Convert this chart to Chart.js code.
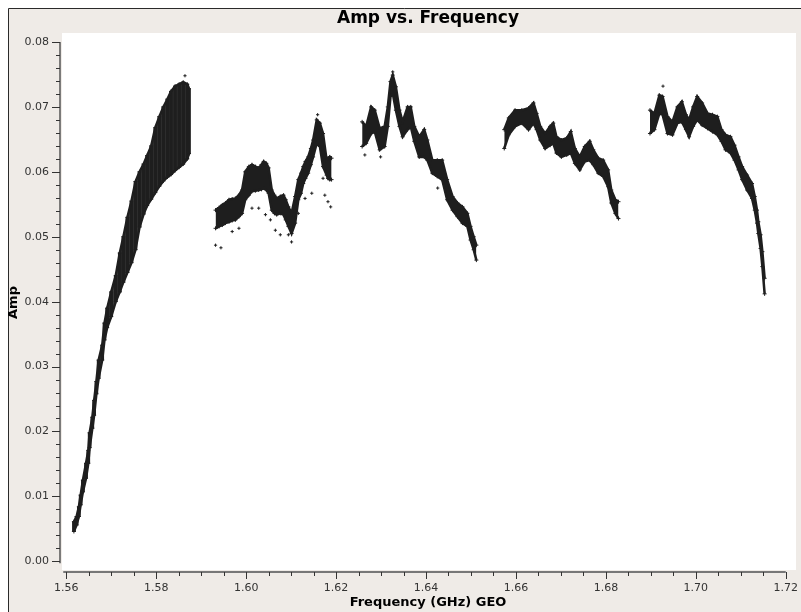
<!DOCTYPE html>
<html>
<head>
<meta charset="utf-8">
<script src="https://cdn.jsdelivr.net/npm/chart.js@4.4.1/dist/chart.umd.min.js"></script>
<style>
  html, body { margin: 0; padding: 0; background: #ffffff; }
  canvas { display: block; }
</style>
</head>
<body>
<canvas id="plot" width="801" height="612"></canvas>
<script>
// Amplitude spread per frequency channel: low / high envelope of the visibilities (GHz, Amp)
const seg1Freq = [1.5617,1.5623,1.5628,1.5632,1.5637,1.5644,1.5649,1.5652,1.5658,1.5662,1.5667,1.5672,1.5680,1.5685,1.5691,1.5700,1.5710,1.5719,1.5727,1.5736,1.5745,1.5754,1.5763,1.5772,1.5780,1.5789,1.5798,1.5807,1.5816,1.5825,1.5833,1.5842,1.5851,1.5860,1.5869,1.5873];
const seg1Lo   = [0.0046,0.0056,0.0069,0.0087,0.0107,0.0128,0.0151,0.0175,0.0205,0.0225,0.0258,0.0282,0.0310,0.0341,0.0360,0.0377,0.0400,0.0415,0.0430,0.0445,0.0460,0.0480,0.0515,0.0535,0.0548,0.0558,0.0568,0.0578,0.0586,0.0592,0.0596,0.0602,0.0607,0.0612,0.0620,0.0628];
const seg1Hi   = [0.0061,0.0069,0.0084,0.0102,0.0125,0.0151,0.0171,0.0198,0.0222,0.0248,0.0277,0.0310,0.0333,0.0367,0.0390,0.0415,0.0440,0.0475,0.0500,0.0530,0.0555,0.0585,0.0600,0.0612,0.0625,0.0640,0.0668,0.0685,0.0700,0.0712,0.0724,0.0732,0.0735,0.0738,0.0735,0.0728];

const seg2Freq = [1.5932,1.5940,1.5947,1.5954,1.5962,1.5969,1.5976,1.5984,1.5991,1.5998,1.6006,1.6013,1.6021,1.6028,1.6034,1.6039,1.6045,1.6050,1.6057,1.6063,1.6068,1.6076,1.6083,1.6088,1.6094,1.6101,1.6109,1.6116,1.6122,1.6127,1.6132,1.6138,1.6144,1.6149,1.6157,1.6164,1.6171,1.6179,1.6182,1.6186,1.6190];
const seg2Lo   = [0.0513,0.0516,0.0518,0.0521,0.0523,0.0525,0.0526,0.0531,0.0536,0.0557,0.0564,0.0570,0.0571,0.0572,0.0573,0.0575,0.0572,0.0567,0.0541,0.0536,0.0534,0.0536,0.0534,0.0526,0.0516,0.0505,0.0521,0.0557,0.0567,0.0582,0.0590,0.0598,0.0611,0.0623,0.0644,0.0639,0.0608,0.0595,0.0590,0.0588,0.0588];
const seg2Hi   = [0.0541,0.0545,0.0549,0.0552,0.0557,0.0558,0.0559,0.0564,0.0572,0.0600,0.0608,0.0611,0.0608,0.0606,0.0611,0.0616,0.0613,0.0606,0.0572,0.0564,0.0559,0.0562,0.0564,0.0557,0.0546,0.0536,0.0562,0.0588,0.0598,0.0608,0.0616,0.0623,0.0636,0.0649,0.0680,0.0675,0.0659,0.0618,0.0621,0.0623,0.0621];

const seg3Freq = [1.6258,1.6267,1.6278,1.6286,1.6297,1.6308,1.6315,1.6321,1.6326,1.6333,1.6341,1.6348,1.6359,1.6366,1.6374,1.6385,1.6396,1.6403,1.6414,1.6425,1.6436,1.6447,1.6459,1.6470,1.6481,1.6492,1.6499,1.6506,1.6512];
const seg3Lo   = [0.0639,0.0644,0.0659,0.0662,0.0634,0.0639,0.0670,0.0716,0.0721,0.0695,0.0670,0.0654,0.0665,0.0670,0.0647,0.0623,0.0623,0.0618,0.0598,0.0593,0.0588,0.0557,0.0541,0.0531,0.0521,0.0516,0.0495,0.0480,0.0464];
const seg3Hi   = [0.0677,0.0670,0.0700,0.0695,0.0667,0.0670,0.0700,0.0739,0.0749,0.0731,0.0695,0.0677,0.0700,0.0700,0.0670,0.0654,0.0665,0.0649,0.0618,0.0618,0.0618,0.0588,0.0562,0.0552,0.0546,0.0536,0.0516,0.0500,0.0487];

const seg4Freq = [1.6574,1.6584,1.6598,1.6613,1.6628,1.6639,1.6646,1.6654,1.6665,1.6676,1.6683,1.6690,1.6701,1.6713,1.6722,1.6731,1.6742,1.6753,1.6764,1.6772,1.6783,1.6794,1.6805,1.6812,1.6821,1.6828];
const seg4Lo   = [0.0636,0.0657,0.0670,0.0675,0.0665,0.0675,0.0665,0.0649,0.0636,0.0641,0.0644,0.0629,0.0623,0.0626,0.0629,0.0613,0.0603,0.0616,0.0618,0.0611,0.0598,0.0593,0.0577,0.0552,0.0536,0.0528];
const seg4Hi   = [0.0665,0.0683,0.0695,0.0695,0.0698,0.0706,0.0690,0.0670,0.0659,0.0670,0.0675,0.0654,0.0649,0.0652,0.0662,0.0636,0.0623,0.0639,0.0647,0.0634,0.0621,0.0618,0.0603,0.0572,0.0557,0.0554];

const seg5Freq = [1.6898,1.6908,1.6919,1.6926,1.6937,1.6948,1.6959,1.6969,1.6978,1.6985,1.6994,1.7003,1.7014,1.7026,1.7037,1.7048,1.7057,1.7066,1.7077,1.7086,1.7095,1.7103,1.7114,1.7125,1.7131,1.7136,1.7139,1.7144,1.7148,1.7153];
const seg5Lo   = [0.0659,0.0665,0.0690,0.0688,0.0659,0.0657,0.0675,0.0677,0.0665,0.0654,0.0670,0.0680,0.0672,0.0667,0.0662,0.0657,0.0647,0.0634,0.0629,0.0618,0.0603,0.0588,0.0572,0.0559,0.0541,0.0521,0.0505,0.0482,0.0454,0.0412];
const seg5Hi   = [0.0695,0.0690,0.0718,0.0716,0.0685,0.0677,0.0700,0.0708,0.0688,0.0680,0.0700,0.0716,0.0706,0.0690,0.0688,0.0685,0.0665,0.0657,0.0654,0.0641,0.0623,0.0608,0.0595,0.0582,0.0562,0.0541,0.0523,0.0503,0.0477,0.0436];

// Isolated samples lying off the main band
const strayFreq = [1.5864,1.5932,1.5944,1.5969,1.5984,1.6013,1.6028,1.6043,1.6054,1.6065,1.6076,1.6094,1.6101,1.6116,1.6131,1.6146,1.6159,1.6171,1.6175,1.6182,1.6188,1.6264,1.6299,1.6326,1.6426,1.6927];
const strayAmp  = [0.0748,0.0487,0.0483,0.0508,0.0513,0.0544,0.0544,0.0534,0.0526,0.0510,0.0503,0.0503,0.0492,0.0536,0.0559,0.0567,0.0688,0.0590,0.0564,0.0554,0.0546,0.0626,0.0623,0.0754,0.0575,0.0732];

// Axis tick labels
const xTickLabels = [1.56, 1.58, 1.60, 1.62, 1.64, 1.66, 1.68, 1.70, 1.72];
const yTickLabels = [0.00, 0.01, 0.02, 0.03, 0.04, 0.05, 0.06, 0.07, 0.08];

const INK = '#1e1e1e';

const segments = [
  { f: seg1Freq, lo: seg1Lo, hi: seg1Hi, bars: true,  fill: 'rgba(30,30,30,0.86)' },
  { f: seg2Freq, lo: seg2Lo, hi: seg2Hi, bars: false, fill: INK },
  { f: seg3Freq, lo: seg3Lo, hi: seg3Hi, bars: false, fill: INK },
  { f: seg4Freq, lo: seg4Lo, hi: seg4Hi, bars: false, fill: INK },
  { f: seg5Freq, lo: seg5Lo, hi: seg5Hi, bars: false, fill: INK }
];

const datasets = [];
segments.forEach(s => {
  // band between the low and high envelopes, edged by the marker width
  datasets.push({
    type: 'line',
    data: s.f.map((f, i) => ({ x: f, y: s.lo[i] })),
    borderWidth: 2.5,
    borderColor: INK,
    pointRadius: 0,
    fill: false,
    tension: 0
  });
  datasets.push({
    type: 'line',
    data: s.f.map((f, i) => ({ x: f, y: s.hi[i] })),
    borderWidth: 2.5,
    borderColor: INK,
    backgroundColor: s.fill,
    pointRadius: 0,
    fill: '-1',
    tension: 0
  });
  if (s.bars) {
    datasets.push({
      type: 'bar',
      data: s.f.map((f, i) => ({ x: f, y: [s.lo[i], s.hi[i]] })),
      backgroundColor: INK,
      borderWidth: 0,
      barThickness: 3,
      grouped: false
    });
  }
  const edges = [];
  s.f.forEach((f, i) => { edges.push({ x: f, y: s.lo[i] }); edges.push({ x: f, y: s.hi[i] }); });
  datasets.push({
    type: 'scatter',
    data: edges,
    pointStyle: 'cross',
    pointRadius: 2,
    borderColor: INK,
    borderWidth: 1,
    showLine: false
  });
});
datasets.push({
  type: 'scatter',
  data: strayFreq.map((f, i) => ({ x: f, y: strayAmp[i] })),
  pointStyle: 'cross',
  pointRadius: 1.6,
  borderColor: INK,
  borderWidth: 1,
  showLine: false
});

// tick sets: labelled majors plus unlabelled minors
const xTicks = [];
for (let i = 0; i <= 32; i++) xTicks.push(Math.round((1.56 + i * 0.005) * 1000) / 1000);
const yTicks = [];
for (let i = 0; i <= 40; i++) yTicks.push(Math.round(i * 2) / 1000);

const isLabelled = (v, list) => list.some(t => Math.abs(t - v) < 1e-7);

// background, frame, axis backbones and tick marks
const framePlugin = {
  id: 'framePlugin',
  beforeDraw(chart) {
    const { ctx, chartArea: a, width, height } = chart;
    ctx.save();
    ctx.fillStyle = '#ffffff';
    ctx.fillRect(0, 0, width, height);
    ctx.fillStyle = '#efebe7';
    ctx.fillRect(9, 9, width - 9, height - 9);
    ctx.strokeStyle = '#2a2a2a';
    ctx.lineWidth = 1;
    ctx.beginPath();
    ctx.moveTo(8.5, height);
    ctx.lineTo(8.5, 8.5);
    ctx.lineTo(width, 8.5);
    ctx.stroke();
    ctx.fillStyle = '#ffffff';
    ctx.fillRect(a.left + 2, a.top, a.right - a.left - 2, a.bottom - a.top - 2);
    ctx.restore();
  },
  afterDraw(chart) {
    const { ctx, chartArea: a } = chart;
    const xs = chart.scales.x, ys = chart.scales.y;
    ctx.save();
    // y axis
    const yTop = ys.getPixelForValue(yTickLabels[yTickLabels.length - 1]);
    const yBot = ys.getPixelForValue(yTickLabels[0]);
    ctx.strokeStyle = '#555555';
    ctx.lineWidth = 1.5;
    ctx.beginPath();
    ctx.moveTo(a.left, yTop);
    ctx.lineTo(a.left, yBot + 2);
    ctx.stroke();
    ctx.strokeStyle = '#333333';
    ctx.lineWidth = 1;
    ys.ticks.forEach(t => {
      const py = Math.round(ys.getPixelForValue(t.value)) + 0.5;
      const len = isLabelled(t.value, yTickLabels) ? 8 : 4;
      ctx.beginPath();
      ctx.moveTo(a.left - len, py);
      ctx.lineTo(a.left, py);
      ctx.stroke();
    });
    // x axis
    const xL = xs.getPixelForValue(xTickLabels[0]);
    const xR = xs.getPixelForValue(xTickLabels[xTickLabels.length - 1]);
    ctx.strokeStyle = '#777777';
    ctx.lineWidth = 2;
    ctx.beginPath();
    ctx.moveTo(xL - 3, a.bottom);
    ctx.lineTo(xR, a.bottom);
    ctx.stroke();
    ctx.strokeStyle = '#333333';
    ctx.lineWidth = 1;
    xs.ticks.forEach(t => {
      const px = Math.round(xs.getPixelForValue(t.value)) + 0.5;
      const len = isLabelled(t.value, xTickLabels) ? 7 : 4;
      ctx.beginPath();
      ctx.moveTo(px, a.bottom);
      ctx.lineTo(px, a.bottom + len);
      ctx.stroke();
    });
    ctx.restore();
  }
};

Chart.defaults.font.family = "'DejaVu Sans', sans-serif";

new Chart(document.getElementById('plot'), {
  type: 'bar',
  data: { datasets },
  plugins: [framePlugin],
  options: {
    responsive: false,
    animation: false,
    events: [],
    layout: { padding: { left: 0, right: 0, top: 0, bottom: 0 } },
    plugins: {
      legend: { display: false },
      tooltip: { enabled: false },
      filler: { propagate: false },
      title: {
        display: true,
        fullSize: false,
        text: 'Amp vs. Frequency',
        color: '#000000',
        font: { size: 17, weight: 'bold' },
        padding: { top: 8, bottom: 4.6 }
      }
    },
    scales: {
      x: {
        type: 'linear',
        offset: false,
        min: 1.558609,
        max: 1.722275,
        grid: { display: false, drawTicks: false },
        border: { display: false },
        afterBuildTicks: s => { s.ticks = xTicks.map(v => ({ value: v })); },
        afterFit: s => { s.height = 40; s.paddingLeft = 0; s.paddingRight = 0; },
        ticks: {
          autoSkip: false,
          maxRotation: 0,
          padding: 10,
          color: '#333333',
          font: { size: 11 },
          callback: v => isLabelled(v, xTickLabels) ? v.toFixed(2) : ''
        },
        title: {
          display: true,
          text: 'Frequency (GHz) GEO',
          color: '#000000',
          font: { size: 13, weight: 'bold' },
          padding: { top: 0, bottom: 2 }
        }
      },
      y: {
        type: 'linear',
        min: -0.001648,
        max: 0.081387,
        grid: { display: false, drawTicks: false },
        border: { display: false },
        afterBuildTicks: s => { s.ticks = yTicks.map(v => ({ value: v })); },
        afterFit: s => { s.width = 60; s.paddingTop = 0; s.paddingBottom = 0; },
        ticks: {
          autoSkip: false,
          padding: 11,
          color: '#333333',
          font: { size: 11 },
          callback: v => isLabelled(v, yTickLabels) ? v.toFixed(2) : ''
        },
        title: {
          display: true,
          text: 'Amp',
          color: '#000000',
          font: { size: 13, weight: 'bold' },
          padding: { top: 6, bottom: 0 }
        }
      }
    }
  }
});
</script>
</body>
</html>
